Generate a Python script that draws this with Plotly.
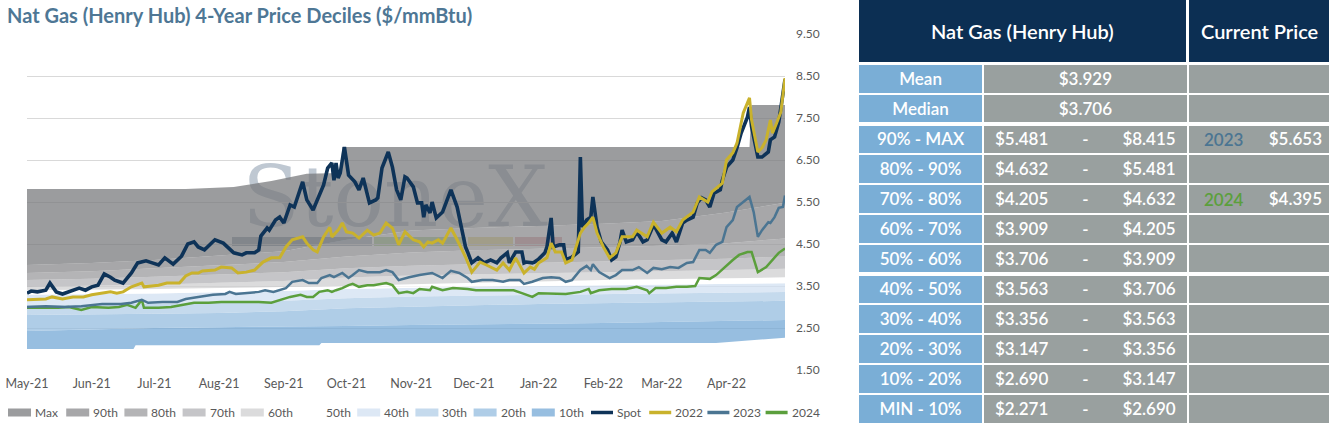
import plotly.graph_objects as go

W, H = 1332, 425

# ---------------- percentile bands (boundary values through time) ----------------
month_dates = ["2021-05-01", "2021-06-01", "2021-07-01", "2021-08-01", "2021-09-01", "2021-10-01",
               "2021-11-01", "2021-12-01", "2022-01-01", "2022-02-01", "2022-03-01", "2022-04-01",
               "2022-04-29"]

min_dates = ["2021-05-01", "2021-06-21", "2021-06-22", "2021-09-18", "2021-09-19", "2022-03-27", "2022-04-29"]
min_vals = [2.00, 2.00, 2.09, 2.09, 2.14, 2.14, 2.27]

p10 = [2.43, 2.47, 2.50, 2.52, 2.53, 2.55, 2.57, 2.58, 2.60, 2.62, 2.64, 2.66, 2.69]
p20 = [2.81, 2.82, 2.84, 2.86, 2.90, 2.97, 3.01, 3.04, 3.07, 3.09, 3.11, 3.13, 3.147]
p30 = [3.05, 3.06, 3.08, 3.11, 3.15, 3.21, 3.25, 3.27, 3.29, 3.31, 3.33, 3.345, 3.356]
p40 = [3.29, 3.30, 3.32, 3.35, 3.38, 3.43, 3.46, 3.48, 3.50, 3.52, 3.53, 3.55, 3.563]
p50 = [3.40, 3.41, 3.43, 3.45, 3.47, 3.50, 3.54, 3.58, 3.61, 3.64, 3.66, 3.69, 3.706]
p60 = [3.48, 3.50, 3.53, 3.58, 3.62, 3.70, 3.75, 3.78, 3.80, 3.83, 3.85, 3.88, 3.909]
p70 = [3.64, 3.67, 3.72, 3.78, 3.83, 3.92, 3.98, 4.02, 4.05, 4.08, 4.11, 4.15, 4.205]
p80 = [3.81, 3.85, 3.92, 4.00, 4.07, 4.20, 4.30, 4.35, 4.38, 4.42, 4.46, 4.52, 4.632]
p90 = [4.00, 4.05, 4.12, 4.22, 4.33, 4.60, 4.82, 4.88, 4.93, 4.98, 5.05, 5.25, 5.481]

max_dates = ["2021-05-01", "2021-07-16", "2021-08-08", "2021-08-26", "2021-09-12", "2021-09-28",
             "2021-09-29", "2022-04-12", "2022-04-13", "2022-04-29"]
max_vals = [5.81, 5.81, 5.86, 6.00, 6.17, 6.19, 6.81, 6.81, 7.81, 7.81]

# ---------------- price lines ----------------
spot_dates = [
    "2021-05-01", "2021-05-03", "2021-05-06", "2021-05-10", "2021-05-12", "2021-05-15", "2021-05-18",
    "2021-05-23", "2021-05-26", "2021-05-29", "2021-06-01", "2021-06-04", "2021-06-07", "2021-06-10",
    "2021-06-12", "2021-06-16", "2021-06-20", "2021-06-23", "2021-06-27", "2021-06-30", "2021-07-03",
    "2021-07-06", "2021-07-10", "2021-07-14", "2021-07-17", "2021-07-20", "2021-07-22", "2021-07-25",
    "2021-07-28", "2021-07-30", "2021-08-03", "2021-08-08", "2021-08-12", "2021-08-14", "2021-08-18",
    "2021-08-20", "2021-08-21", "2021-08-24", "2021-08-25", "2021-08-28", "2021-08-30", "2021-09-01",
    "2021-09-04", "2021-09-06", "2021-09-10", "2021-09-12", "2021-09-15", "2021-09-17", "2021-09-20",
    "2021-09-22", "2021-09-24", "2021-09-25", "2021-09-26", "2021-09-27", "2021-09-28", "2021-09-30",
    "2021-10-02", "2021-10-05", "2021-10-07", "2021-10-09", "2021-10-12", "2021-10-15", "2021-10-16",
    "2021-10-18", "2021-10-21", "2021-10-23", "2021-10-25", "2021-10-27", "2021-10-29", "2021-10-30",
    "2021-11-02", "2021-11-04", "2021-11-06", "2021-11-07", "2021-11-08", "2021-11-10", "2021-11-11",
    "2021-11-13", "2021-11-16", "2021-11-20", "2021-11-23", "2021-11-25", "2021-11-27", "2021-11-28",
    "2021-11-30", "2021-12-03", "2021-12-06", "2021-12-09", "2021-12-12", "2021-12-14", "2021-12-17",
    "2021-12-18", "2021-12-21", "2021-12-24", "2021-12-25", "2021-12-26", "2021-12-29", "2021-12-30",
    "2022-01-01", "2022-01-04", "2022-01-05", "2022-01-07", "2022-01-08", "2022-01-11", "2022-01-13",
    "2022-01-14", "2022-01-17", "2022-01-20", "2022-01-21", "2022-01-22", "2022-01-24", "2022-01-26",
    "2022-01-27", "2022-01-29", "2022-01-31", "2022-02-03", "2022-02-05", "2022-02-07", "2022-02-09",
    "2022-02-10", "2022-02-12", "2022-02-15", "2022-02-17", "2022-02-20", "2022-02-22", "2022-02-25",
    "2022-02-26", "2022-03-01", "2022-03-03", "2022-03-06", "2022-03-08", "2022-03-11", "2022-03-13",
    "2022-03-16", "2022-03-18", "2022-03-20", "2022-03-22", "2022-03-24", "2022-03-26", "2022-03-29",
    "2022-03-30", "2022-04-01", "2022-04-04", "2022-04-06", "2022-04-08", "2022-04-11", "2022-04-12",
    "2022-04-13", "2022-04-16", "2022-04-18", "2022-04-21", "2022-04-22", "2022-04-24", "2022-04-26",
    "2022-04-28", "2022-04-29"]
spot_values = [
    3.33, 3.38, 3.36, 3.40, 3.57, 3.36, 3.31, 3.40, 3.45, 3.40, 3.48, 3.52, 3.79, 3.71,
    3.64, 3.57, 3.81, 4.05, 4.10, 4.05, 4.00, 4.17, 4.02, 4.21, 4.50, 4.55, 4.43, 4.36,
    4.52, 4.60, 4.52, 4.29, 4.24, 4.29, 4.29, 4.36, 4.69, 4.88, 4.83, 5.07, 5.14, 5.00,
    5.43, 5.38, 5.98, 5.55, 5.31, 5.55, 5.90, 6.31, 6.43, 6.02, 6.43, 6.07, 6.19, 6.81,
    6.14, 5.98, 5.79, 6.07, 5.48, 5.55, 5.60, 6.31, 6.69, 6.33, 5.79, 5.55, 6.10, 6.07,
    5.86, 5.48, 5.48, 5.14, 5.43, 5.24, 5.50, 5.12, 5.26, 5.79, 5.38, 4.90, 4.43, 4.31,
    4.05, 4.17, 4.05, 4.12, 4.05, 4.17, 4.29, 4.05, 4.31, 4.31, 4.05, 4.07, 4.05, 4.07,
    4.14, 4.29, 4.43, 5.12, 4.43, 4.48, 4.48, 4.12, 4.19, 4.31, 6.57, 4.90, 5.07, 5.14,
    5.62, 4.90, 4.55, 4.36, 4.12, 4.19, 4.55, 4.83, 4.55, 4.60, 4.79, 4.55, 4.60, 4.95,
    4.88, 4.60, 4.55, 4.76, 4.55, 5.00, 5.07, 5.14, 5.48, 5.60, 5.55, 5.38, 5.71, 5.79,
    6.02, 6.33, 6.50, 6.79, 7.14, 7.52, 7.76, 7.29, 6.57, 6.57, 6.69, 6.98, 7.05, 7.40,
    8.10, 8.415]

y2022_dates = [
    "2021-05-01", "2021-05-10", "2021-05-13", "2021-05-18", "2021-05-23", "2021-05-28", "2021-06-01",
    "2021-06-06", "2021-06-10", "2021-06-13", "2021-06-16", "2021-06-20", "2021-06-25", "2021-06-26",
    "2021-07-03", "2021-07-07", "2021-07-13", "2021-07-16", "2021-07-19", "2021-07-22", "2021-07-24",
    "2021-07-30", "2021-08-02", "2021-08-07", "2021-08-10", "2021-08-14", "2021-08-18", "2021-08-22",
    "2021-08-26", "2021-08-30", "2021-09-02", "2021-09-05", "2021-09-10", "2021-09-12", "2021-09-15",
    "2021-09-17", "2021-09-20", "2021-09-23", "2021-09-24", "2021-09-27", "2021-09-29", "2021-10-01",
    "2021-10-04", "2021-10-07", "2021-10-11", "2021-10-14", "2021-10-17", "2021-10-20", "2021-10-23",
    "2021-10-26", "2021-10-29", "2021-11-02", "2021-11-05", "2021-11-07", "2021-11-09", "2021-11-11",
    "2021-11-14", "2021-11-16", "2021-11-20", "2021-11-23", "2021-11-27", "2021-11-30", "2021-12-04",
    "2021-12-07", "2021-12-12", "2021-12-15", "2021-12-18", "2021-12-21", "2021-12-25", "2021-12-28",
    "2021-12-30", "2022-01-01", "2022-01-05", "2022-01-07", "2022-01-09", "2022-01-12", "2022-01-14",
    "2022-01-17", "2022-01-21", "2022-01-23", "2022-01-25", "2022-01-27", "2022-01-29", "2022-02-01",
    "2022-02-04", "2022-02-07", "2022-02-10", "2022-02-15", "2022-02-17", "2022-02-22", "2022-02-25",
    "2022-03-01", "2022-03-05", "2022-03-08", "2022-03-11", "2022-03-16", "2022-03-19", "2022-03-23",
    "2022-03-25", "2022-03-30", "2022-04-01", "2022-04-04", "2022-04-06", "2022-04-09", "2022-04-12",
    "2022-04-13", "2022-04-16", "2022-04-18", "2022-04-20", "2022-04-22", "2022-04-23", "2022-04-25",
    "2022-04-27", "2022-04-29"]
y2022_values = [
    3.17, 3.19, 3.24, 3.19, 3.24, 3.24, 3.29, 3.33, 3.36, 3.33, 3.36, 3.48, 3.57, 3.48,
    3.52, 3.57, 3.57, 3.74, 3.81, 3.81, 3.86, 3.88, 3.95, 3.93, 3.81, 3.83, 3.88, 4.07,
    4.17, 4.17, 4.43, 4.60, 4.67, 4.52, 4.36, 4.31, 4.67, 4.90, 4.67, 4.83, 5.00, 4.79,
    4.76, 4.64, 4.83, 4.71, 4.76, 5.00, 4.88, 4.48, 4.79, 4.60, 4.55, 4.43, 4.55, 4.52,
    4.60, 4.52, 4.88, 4.60, 4.19, 3.83, 4.07, 4.00, 3.88, 4.05, 3.88, 4.17, 3.81, 3.95,
    3.90, 4.05, 4.17, 4.52, 4.31, 4.31, 4.05, 4.12, 4.76, 4.90, 5.00, 5.14, 4.76, 4.43,
    4.17, 4.29, 4.67, 4.67, 4.83, 4.67, 5.02, 4.76, 4.90, 4.79, 5.07, 5.26, 5.62, 5.50,
    5.74, 5.95, 6.50, 6.67, 6.90, 7.62, 7.98, 7.45, 6.69, 6.79, 6.98, 7.45, 7.14, 7.38,
    7.64, 8.45]

y2023_dates = [
    "2021-05-01", "2021-05-10", "2021-05-19", "2021-05-27", "2021-06-06", "2021-06-15", "2021-06-20",
    "2021-06-25", "2021-06-28", "2021-07-05", "2021-07-12", "2021-07-16", "2021-07-22", "2021-07-29",
    "2021-08-04", "2021-08-06", "2021-08-09", "2021-08-13", "2021-08-20", "2021-08-23", "2021-08-27",
    "2021-09-02", "2021-09-05", "2021-09-10", "2021-09-13", "2021-09-17", "2021-09-19", "2021-09-23",
    "2021-09-25", "2021-09-29", "2021-10-02", "2021-10-04", "2021-10-07", "2021-10-11", "2021-10-14",
    "2021-10-17", "2021-10-20", "2021-10-23", "2021-10-26", "2021-10-31", "2021-11-05", "2021-11-11",
    "2021-11-16", "2021-11-20", "2021-11-24", "2021-11-28", "2021-11-30", "2021-12-05", "2021-12-10",
    "2021-12-15", "2021-12-18", "2021-12-23", "2021-12-25", "2021-12-29", "2022-01-03", "2022-01-07",
    "2022-01-11", "2022-01-14", "2022-01-17", "2022-01-21", "2022-01-24", "2022-01-26", "2022-01-27",
    "2022-01-30", "2022-02-04", "2022-02-07", "2022-02-10", "2022-02-15", "2022-02-18", "2022-02-22",
    "2022-02-25", "2022-03-01", "2022-03-05", "2022-03-09", "2022-03-13", "2022-03-16", "2022-03-19",
    "2022-03-22", "2022-03-24", "2022-03-27", "2022-03-30", "2022-04-01", "2022-04-04", "2022-04-06",
    "2022-04-09", "2022-04-12", "2022-04-14", "2022-04-16", "2022-04-18", "2022-04-21", "2022-04-22",
    "2022-04-24", "2022-04-26", "2022-04-28", "2022-04-29"]
y2023_values = [
    3.00, 3.02, 3.00, 3.02, 3.07, 3.07, 3.10, 3.17, 3.10, 3.12, 3.12, 3.19, 3.24, 3.29,
    3.31, 3.36, 3.31, 3.33, 3.36, 3.40, 3.36, 3.45, 3.60, 3.64, 3.57, 3.57, 3.69, 3.76,
    3.71, 3.81, 3.69, 3.76, 3.88, 3.83, 3.83, 3.83, 3.88, 3.83, 3.64, 3.71, 3.76, 3.81,
    3.69, 3.86, 3.81, 3.69, 3.60, 3.64, 3.64, 3.60, 3.64, 3.64, 3.55, 3.60, 3.69, 3.71,
    3.69, 3.60, 3.64, 3.88, 3.98, 3.88, 4.02, 3.83, 3.69, 3.76, 3.88, 3.88, 3.95, 3.81,
    3.93, 3.90, 3.95, 3.93, 4.05, 4.07, 4.36, 4.36, 4.29, 4.48, 4.55, 4.90, 5.07, 5.38,
    5.50, 5.62, 5.26, 4.67, 4.83, 5.02, 5.00, 5.14, 5.36, 5.38, 5.653]

y2024_dates = [
    "2021-05-01", "2021-05-10", "2021-05-16", "2021-05-21", "2021-05-27", "2021-06-01", "2021-06-09",
    "2021-06-14", "2021-06-18", "2021-06-22", "2021-06-25", "2021-06-26", "2021-07-03", "2021-07-09",
    "2021-07-14", "2021-07-20", "2021-07-27", "2021-08-02", "2021-08-09", "2021-08-15", "2021-08-20",
    "2021-08-26", "2021-08-31", "2021-09-04", "2021-09-09", "2021-09-12", "2021-09-15", "2021-09-18",
    "2021-09-22", "2021-09-24", "2021-09-26", "2021-09-29", "2021-10-02", "2021-10-04", "2021-10-07",
    "2021-10-11", "2021-10-14", "2021-10-17", "2021-10-20", "2021-10-23", "2021-10-26", "2021-10-30",
    "2021-11-02", "2021-11-05", "2021-11-10", "2021-11-11", "2021-11-16", "2021-11-21", "2021-11-28",
    "2021-12-02", "2021-12-09", "2021-12-15", "2021-12-20", "2021-12-24", "2021-12-29", "2022-01-01",
    "2022-01-08", "2022-01-14", "2022-01-21", "2022-01-25", "2022-01-26", "2022-01-30", "2022-02-05",
    "2022-02-12", "2022-02-17", "2022-02-22", "2022-02-23", "2022-02-26", "2022-03-03", "2022-03-08",
    "2022-03-13", "2022-03-17", "2022-03-19", "2022-03-24", "2022-03-27", "2022-03-31", "2022-04-04",
    "2022-04-07", "2022-04-11", "2022-04-13", "2022-04-16", "2022-04-20", "2022-04-23", "2022-04-26",
    "2022-04-29"]
y2024_values = [
    2.98, 2.98, 2.98, 3.00, 2.93, 3.00, 2.98, 3.00, 3.05, 2.98, 3.17, 2.98, 2.98, 3.00,
    3.05, 3.10, 3.10, 3.12, 3.12, 3.12, 3.12, 3.10, 3.17, 3.24, 3.29, 3.24, 3.24, 3.36,
    3.40, 3.36, 3.40, 3.45, 3.52, 3.55, 3.48, 3.52, 3.52, 3.55, 3.57, 3.52, 3.33, 3.36,
    3.33, 3.43, 3.40, 3.48, 3.40, 3.45, 3.43, 3.40, 3.40, 3.40, 3.40, 3.33, 3.24, 3.33,
    3.31, 3.31, 3.36, 3.43, 3.33, 3.40, 3.43, 3.43, 3.48, 3.40, 3.33, 3.45, 3.45, 3.48,
    3.48, 3.50, 3.69, 3.67, 3.76, 3.95, 4.12, 4.24, 4.31, 4.31, 3.83, 3.95, 4.12, 4.29,
    4.395]

# ---------------- table values ----------------
row_labels = ["Mean", "Median", "90% - MAX", "80% - 90%", "70% - 80%", "60% - 70%", "50% - 60%",
              "40% - 50%", "30% - 40%", "20% - 30%", "10% - 20%", "MIN - 10%"]
mean_price = 3.929
median_price = 3.706
range_low = [5.481, 4.632, 4.205, 3.909, 3.706, 3.563, 3.356, 3.147, 2.690, 2.271]
range_high = [8.415, 5.481, 4.632, 4.205, 3.909, 3.706, 3.563, 3.356, 3.147, 2.690]
current_years = ["2023", "2024"]
current_prices = [5.653, 4.395]
current_rows = ["90% - MAX", "70% - 80%"]

# ---------------- styling ----------------
band_names = ["10th", "20th", "30th", "40th", "50th", "60th", "70th", "80th", "90th", "Max"]
band_colors = ["rgba(113,166,213,0.73)", "rgba(146,186,222,0.73)", "rgba(175,204,231,0.73)",
               "rgba(208,224,241,0.73)", "rgba(255,255,255,0.73)", "rgba(206,206,207,0.73)",
               "rgba(176,176,179,0.73)", "rgba(152,152,155,0.73)", "rgba(134,134,137,0.73)",
               "rgba(118,119,122,0.73)"]
line_names = ["Spot", "2022", "2023", "2024"]
line_colors = ["#0e3358", "#c9b22c", "#4b7592", "#5b9f3c"]
line_widths = [3.6, 3.0, 2.5, 2.5]

FONT = "Lato"
GREY_TXT = "#595959"


def px(x):
    return x / W


def py(y):
    return 1 - y / H


fig = go.Figure()

band_x = [month_dates] * 9 + [max_dates]
band_y = [p10, p20, p30, p40, p50, p60, p70, p80, p90, max_vals]

fig.add_trace(go.Scatter(x=min_dates, y=min_vals, mode="lines", line=dict(width=0),
                         hoverinfo="skip", showlegend=False))
for name, bx, by, col in zip(band_names, band_x, band_y, band_colors):
    fig.add_trace(go.Scatter(x=bx, y=by, name=name, mode="lines", line=dict(width=0),
                             fill="tonexty", fillcolor=col, hoverinfo="skip", showlegend=False))

series = {
    "Spot": (spot_dates, spot_values),
    "2022": (y2022_dates, y2022_values),
    "2023": (y2023_dates, y2023_values),
    "2024": (y2024_dates, y2024_values),
}
for name in ["2024", "2023", "Spot", "2022"]:
    i = line_names.index(name)
    xs, ys = series[name]
    fig.add_trace(go.Scatter(x=xs, y=ys, name=name, mode="lines",
                             line=dict(color=line_colors[i], width=line_widths[i]),
                             showlegend=False))

# ---------------- table ----------------
NB = "\u00a0"
range_col = [f"${mean_price:.3f}", f"${median_price:.3f}"] + [
    f"${lo:.3f}{NB * 8}-{NB * 8}${hi:.3f}" for lo, hi in zip(range_low, range_high)]
cur_col = []
for lab in row_labels:
    if lab in current_rows:
        cur_col.append(f"${current_prices[current_rows.index(lab)]:.3f}")
    else:
        cur_col.append("")

LBL_BLUE = "#7aaed6"
CELL_GREY = "#99a09f"
TBL_TOP, ROW_H = 64, 30
n_rows = len(row_labels)
cell_font = dict(family=FONT, size=17, color="white", weight=600)

# first row (Mean) is the table header, the rest are body cells
fig.add_trace(go.Table(
    domain=dict(x=[px(858), px(1330)], y=[0, py(TBL_TOP)]),
    columnwidth=[123, 201, 140],
    header=dict(values=[row_labels[0], range_col[0], cur_col[0]],
                fill_color=[LBL_BLUE, CELL_GREY, CELL_GREY], line=dict(color="white", width=2),
                font=cell_font, align=["center", "center", "right"], height=ROW_H),
    cells=dict(values=[row_labels[1:], range_col[1:], cur_col[1:]],
               fill_color=[[LBL_BLUE] * (n_rows - 1), [CELL_GREY] * (n_rows - 1), [CELL_GREY] * (n_rows - 1)],
               line=dict(color="white", width=2),
               font=cell_font, align=["center", "center", "right"], height=ROW_H),
))

shapes = []
annotations = []

# thicker separators between table groups
for r in [2, 7]:
    yb = TBL_TOP + ROW_H * r
    shapes.append(dict(type="line", xref="paper", yref="paper", x0=px(858), x1=px(1330),
                       y0=py(yb), y1=py(yb), line=dict(color="white", width=4), layer="above"))

# year labels in the "Current Price" column
for yr, lab in zip(current_years, current_rows):
    r = row_labels.index(lab)
    col = line_colors[line_names.index(yr)]
    annotations.append(dict(xref="paper", yref="paper", x=px(1202), y=py(TBL_TOP + ROW_H * (r + 0.5)),
                            text=yr, showarrow=False, xanchor="left", yanchor="middle",
                            font=dict(family=FONT, size=17, color=col, weight=600)))

# table header
NAVY = "#0c2f53"
for x0, x1, txt in [(859, 1186, "Nat Gas (Henry Hub)"), (1189, 1329, "Current Price")]:
    shapes.append(dict(type="rect", xref="paper", yref="paper", x0=px(x0), x1=px(x1),
                       y0=py(62), y1=py(0), fillcolor=NAVY, line=dict(width=0)))
    annotations.append(dict(xref="paper", yref="paper", x=px((x0 + x1) / 2), y=py(31), text=txt,
                            showarrow=False, xanchor="center", yanchor="middle",
                            font=dict(family=FONT, size=20, color="white", weight=600)))

# watermark (behind the translucent bands)
shapes.append(dict(type="rect", xref="paper", yref="paper", x0=px(228), x1=px(562), y0=py(232),
                   y1=py(150), line=dict(width=0), fillcolor="rgba(0,0,0,0)", layer="below",
                   label=dict(text="StoneX", textposition="middle center",
                              font=dict(family="DejaVu Serif", size=84, color="#bfc8d2"))))
for x0, x1, c in [(232, 372, "#a3adb7"), (374, 466, "#a9cf92"), (468, 513, "#ead98a"), (515, 562, "#dfa3a8")]:
    shapes.append(dict(type="rect", xref="paper", yref="paper", x0=px(x0), x1=px(x1), y0=py(246),
                       y1=py(237), line=dict(width=0), fillcolor=c, layer="below"))

# legend
legend_names = ["Max", "90th", "80th", "70th", "60th", "50th", "40th", "30th", "20th", "10th",
                "Spot", "2022", "2023", "2024"]
for i, name in enumerate(legend_names):
    x0 = 8 + 58.2 * i
    if name in band_names:
        col = band_colors[band_names.index(name)]
        shapes.append(dict(type="rect", xref="paper", yref="paper", x0=px(x0), x1=px(x0 + 23),
                           y0=py(416.5), y1=py(408.5), fillcolor=col, line=dict(width=0)))
    else:
        k = line_names.index(name)
        shapes.append(dict(type="line", xref="paper", yref="paper", x0=px(x0 + 1), x1=px(x0 + 23),
                           y0=py(412.5), y1=py(412.5), line=dict(color=line_colors[k], width=3.5)))
    annotations.append(dict(xref="paper", yref="paper", x=px(x0 + 25), y=py(412.5), text=name,
                            showarrow=False, xanchor="left", yanchor="middle",
                            font=dict(family=FONT, size=12, color=GREY_TXT)))

# title
annotations.append(dict(xref="paper", yref="paper", x=px(5), y=py(15),
                        text="Nat Gas (Henry Hub) 4-Year Price Deciles ($/mmBtu)", showarrow=False,
                        xanchor="left", yanchor="middle",
                        font=dict(family=FONT, size=20, color="#4e7795", weight=700)))

fig.update_layout(
    width=W, height=H, margin=dict(l=0, r=0, t=0, b=0), autosize=False,
    paper_bgcolor="white", plot_bgcolor="white", showlegend=False,
    font=dict(family=FONT, color=GREY_TXT),
    shapes=shapes, annotations=annotations,
    xaxis=dict(domain=[px(27), px(785)], range=["2021-05-01", "2022-04-29"], type="date",
               tick0="2021-05-01", dtick="M1", tickformat="%b-%y", showgrid=False, zeroline=False,
               showline=False, ticks="", tickfont=dict(size=12.5, color=GREY_TXT), ticklabelstandoff=4,
               automargin=False),
    yaxis=dict(domain=[py(370), py(34)], range=[1.5, 9.5], side="right", tick0=1.5, dtick=1,
               tickformat=".2f", showgrid=True, gridcolor="#d9d9d9", gridwidth=1, zeroline=False,
               showline=False, ticks="", tickfont=dict(size=12, color=GREY_TXT), ticklabelstandoff=10,
               automargin=False),
)

fig.write_html("out.html", config={"displayModeBar": False},
               post_script="document.body.style.margin='0px';")
